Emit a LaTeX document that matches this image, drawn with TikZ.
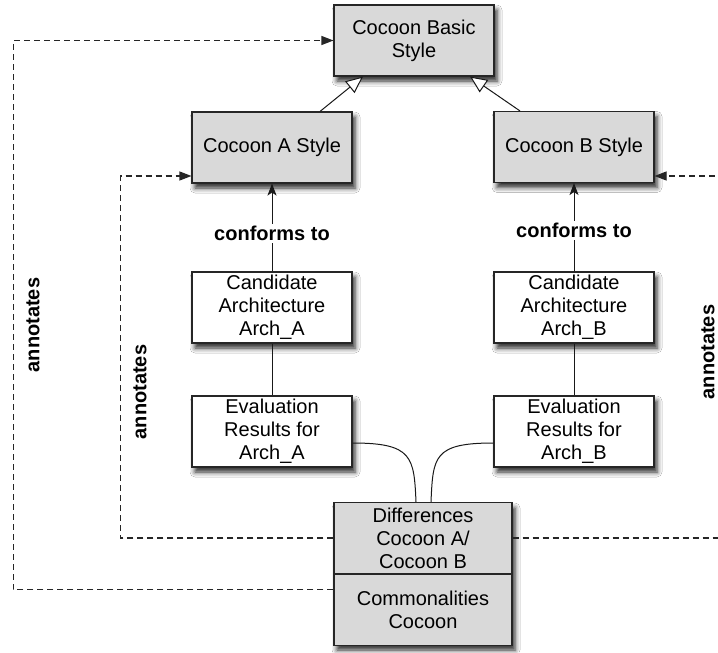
\documentclass[tikz,border=0pt]{standalone}
\usepackage{fontspec}
\setmainfont{Liberation Sans}
\usetikzlibrary{arrows.meta,shadows.blur,calc}
\begin{document}
\begin{tikzpicture}[x=1pt,y=-1pt,
  shadowed/.style={blur shadow={shadow xshift=3pt, shadow yshift=-5pt, shadow blur radius=5pt, shadow opacity=85}},
  boxbase/.style={draw=black!85, line width=1.1pt, minimum width=160pt, minimum height=71pt, inner sep=0pt, align=center, font=\fontsize{20}{23}\selectfont},
  stylebox/.style={boxbase, fill=black!15, shadowed},
  archbox/.style={boxbase, fill=white, shadowed},
  flatbox/.style={boxbase, fill=black!15},
  dashline/.style={dash pattern=on 6pt off 4pt, line width=1.1pt, draw=black!85},
  lbl/.style={font=\fontsize{20}{23}\selectfont\bfseries, inner sep=2pt},
  plain/.style={line width=1pt, draw=black!90},
  fillhead/.style={-{Triangle[length=12pt,width=9pt]}},
  conf/.style={plain, -{Stealth[length=12pt,width=9pt,inset=3pt]}},
  gen/.style={plain, -{Triangle[open,length=17pt,width=15pt,fill=white]}}
]
\useasboundingbox (0,0) rectangle (718,653);
\fill[white] (0,0) rectangle (718,653);

\node[stylebox] (basic) at (414,40.5) {Cocoon Basic\\Style};
\node[stylebox] (sA) at (272,147.5) {Cocoon A Style};
\node[stylebox] (sB) at (574,147) {Cocoon B Style};
\node[archbox] (cA) at (272,307.5) {Candidate\\Architecture\\Arch\_A};
\node[archbox] (cB) at (574,307.5) {Candidate\\Architecture\\Arch\_B};
\node[archbox] (eA) at (272,431.5) {Evaluation\\Results for\\Arch\_A};
\node[archbox] (eB) at (574,431.5) {Evaluation\\Results for\\Arch\_B};

\node[stylebox, minimum width=178pt, minimum height=142pt] (bottom) at (423,574) {};
\node[flatbox, minimum width=178pt, anchor=south] (diff) at (bottom.center) {Differences\\Cocoon A/\\Cocoon B};
\node[flatbox, minimum width=178pt, anchor=north] (comm) at (bottom.center) {Commonalities\\Cocoon};

% generalization
\draw[gen] ([xshift=48pt]sA.north) -- ([xshift=-51pt]basic.south);
\draw[gen] ([xshift=-54pt]sB.north) -- ([xshift=56pt]basic.south);

% conforms to
\draw[conf] (cA.north) -- node[lbl, fill=white, pos=0.43] (confA) {conforms to} (sA.south);
\draw[conf] (cB.north) -- node[lbl, fill=white, pos=0.46] (confB) {conforms to} (sB.south);

% candidate to evaluation
\draw[plain] (cA) -- (eA);
\draw[plain] (cB) -- (eB);

% curves to differences
\draw[plain] ($(eA.east)+(0,11.5)$) .. controls +(60,0) and +(-2,-45) .. ($(diff.north)+(-7,0)$);
\draw[plain] ($(eB.west)+(0,11.5)$) .. controls +(-60,0) and +(2,-45) .. ($(diff.north)+(8,0)$);

% annotates
\draw[dashline, fillhead] ([yshift=20.5pt]comm.west) -- ++(-320,0) |- (basic.west);
\draw[dashline, fillhead] (diff.west) -- ++(-213,0) |- ([yshift=-28.5pt]sA.west);
\draw[dashline, fillhead] (diff.east) -- ++(230,0) |- ([yshift=-29pt]sB.east);

\node[lbl, rotate=90] (ann1) at (33,325) {annotates};
\node[lbl, rotate=90] (ann2) at (140,392) {annotates};
\node[lbl, rotate=90, inner sep=0pt] (ann3) at (708,352) {annotates};
\end{tikzpicture}
\end{document}
